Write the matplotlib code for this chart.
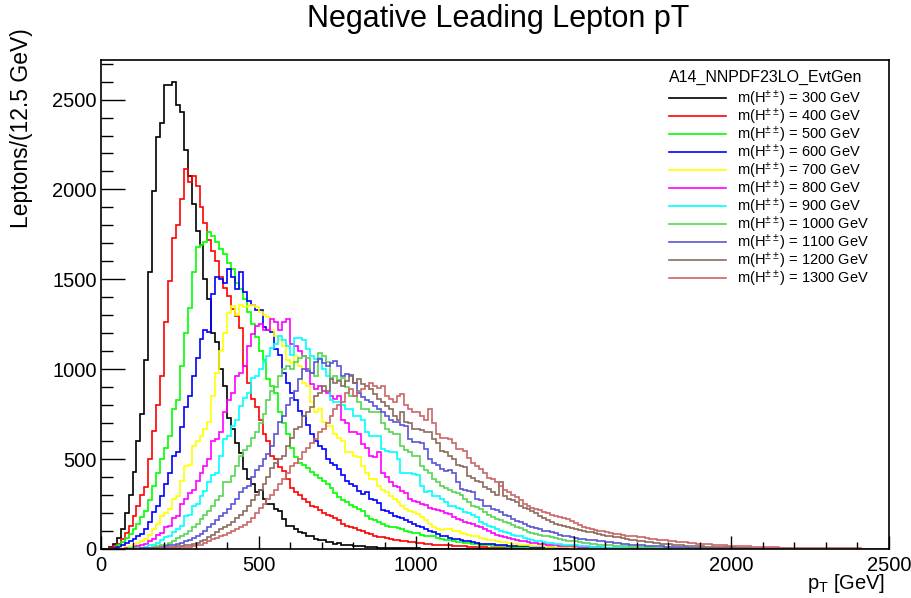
import matplotlib
matplotlib.use("Agg")
import matplotlib.pyplot as plt
import numpy as np
from matplotlib.lines import Line2D
from matplotlib.ticker import MultipleLocator

plt.rcParams['font.family'] = ['Liberation Sans', 'DejaVu Sans']
plt.rcParams['mathtext.fontset'] = 'custom'
plt.rcParams['mathtext.rm'] = 'Liberation Sans'
plt.rcParams['mathtext.it'] = 'Liberation Sans:italic'
plt.rcParams['mathtext.bf'] = 'Liberation Sans:bold'

# 200 bins of 12.5 GeV from 0 to 2500
n_bins = 200
bin_width = 12.5

masses = [300, 400, 500, 600, 700, 800, 900, 1000, 1100, 1200, 1300]
colors = ['#000000', '#ff0000', '#00ff00', '#0000ff', '#ffff00', '#ff00ff',
          '#00ffff', '#59d454', '#5954d8', '#8c6b5e', '#cc6666']

# bin contents (trailing bins are empty)
h300 = [0, 2, 10, 30, 60, 110, 200, 300, 430, 600,
        750, 1050, 1540, 1990, 2290, 2370, 2580, 2580, 2595, 2470,
        2430, 2220, 2075, 1920, 1770, 1690, 1500, 1390, 1200, 1150,
        1000, 905, 730, 665, 590, 535, 445, 390, 360, 315,
        330, 280, 250, 250, 220, 210, 165, 130, 130, 110,
        95, 90, 75, 70, 55, 50, 48, 40, 38, 30,
        32, 25, 22, 20, 18, 15, 14, 12, 10, 9,
        8, 8, 6, 6, 5, 5, 4, 4, 3, 3,
        3, 2, 2, 2, 2, 1, 1, 1, 1, 1]

h400 = [0, 2, 5, 15, 30, 55, 90, 130, 185, 240,
        300, 345, 500, 655, 800, 960, 1260, 1490, 1730, 1800,
        1945, 2115, 2040, 2075, 2020, 1905, 1815, 1720, 1660, 1600,
        1515, 1450, 1405, 1333, 1295, 1230, 1020, 925, 835, 790,
        720, 640, 600, 520, 500, 455, 435, 390, 340, 315,
        300, 280, 260, 240, 235, 215, 200, 190, 185, 170,
        160, 140, 130, 125, 115, 105, 100, 90, 85, 75,
        68, 65, 60, 55, 50, 48, 45, 42, 40, 38,
        36, 32, 30, 28, 25, 24, 22, 20, 20, 18,
        16, 15, 14, 13, 12, 11, 10, 9, 8, 8,
        7, 6, 6, 5, 5, 5, 4, 4, 3, 3,
        3, 2, 2, 2, 2, 1]

h500 = [0, 0, 2, 8, 20, 40, 60, 85, 110, 140,
        180, 210, 270, 350, 420, 500, 560, 630, 780, 830,
        1020, 1200, 1340, 1540, 1680, 1690, 1705, 1765, 1740, 1710,
        1667, 1640, 1590, 1560, 1480, 1445, 1390, 1320, 1250, 1180,
        1100, 1050, 945, 905, 870, 760, 700, 640, 560, 510,
        480, 470, 450, 430, 410, 395, 380, 360, 340, 310,
        290, 275, 260, 245, 235, 220, 210, 185, 165, 160,
        150, 140, 130, 125, 120, 115, 110, 100, 95, 90,
        90, 80, 75, 72, 70, 62, 58, 52, 50, 45,
        40, 38, 35, 32, 28, 26, 25, 22, 20, 18,
        16, 15, 14, 13, 12, 11, 10, 9, 8, 8,
        7, 6, 6, 5, 5, 4, 4, 3, 3, 3,
        2, 2, 2, 2, 1, 1, 1, 1, 1]

h600 = [0, 0, 1, 5, 12, 22, 35, 45, 55, 70,
        85, 110, 150, 205, 240, 295, 360, 425, 520, 540,
        680, 790, 850, 960, 1060, 1170, 1220, 1205, 1420, 1515,
        1500, 1480, 1560, 1515, 1445, 1540, 1430, 1380, 1360, 1330,
        1330, 1235, 1220, 1205, 1110, 1080, 980, 925, 870, 830,
        765, 740, 690, 640, 600, 575, 555, 500, 480, 470,
        445, 410, 380, 360, 350, 320, 305, 315, 280, 270,
        255, 215, 210, 200, 185, 180, 175, 160, 150, 140,
        130, 120, 110, 100, 95, 85, 75, 70, 60, 58,
        55, 50, 45, 42, 38, 35, 30, 30, 28, 26,
        24, 22, 20, 19, 18, 17, 16, 15, 14, 13,
        12, 11, 10, 10, 9, 8, 8, 7, 6, 6,
        5, 5, 5, 4, 4, 4, 3, 3, 3, 3,
        2, 2, 2, 2, 2, 1, 1, 1, 1, 1, 1]

h700 = [0, 0, 0, 1, 2, 5, 10, 15, 25, 35,
        45, 55, 80, 110, 140, 185, 200, 220, 280, 295,
        380, 460, 470, 575, 600, 630, 670, 705, 850, 980,
        1100, 1200, 1315, 1350, 1300, 1360, 1345, 1350, 1360, 1345,
        1320, 1300, 1290, 1220, 1185, 1165, 1130, 1050, 1035, 1075,
        1020, 925, 905, 815, 760, 780, 705, 685, 685, 640,
        620, 600, 540, 540, 520, 510, 460, 425, 390, 390,
        350, 330, 315, 295, 280, 260, 240, 220, 210, 205,
        195, 180, 160, 140, 120, 110, 105, 110, 110, 100,
        100, 90, 85, 80, 75, 70, 60, 55, 50, 48,
        45, 40, 38, 35, 30, 28, 25, 22, 20, 18,
        16, 15, 15, 13, 12, 11, 10, 9, 9, 8,
        8, 7, 6, 6, 5, 5, 4, 4, 4, 3,
        3, 3, 3, 2, 2, 2, 2, 2, 1, 1, 1, 1, 1, 1, 1]

h800 = [0, 0, 0, 0, 1, 2, 4, 6, 10, 15,
        20, 30, 45, 55, 80, 90, 120, 130, 175, 185,
        250, 280, 310, 330, 380, 425, 460, 500, 600, 610,
        650, 760, 830, 870, 960, 980, 1020, 1130, 1195, 1240,
        1250, 1220, 1220, 1280, 1260, 1220, 1260, 1280, 1140, 1130,
        1100, 1075, 1000, 920, 890, 905, 880, 870, 850, 835,
        850, 720, 700, 650, 650, 640, 585, 560, 520, 510,
        540, 425, 400, 370, 350, 345, 320, 310, 280, 265,
        260, 250, 245, 230, 220, 215, 210, 200, 195, 180,
        165, 160, 150, 145, 140, 130, 125, 110, 100, 90,
        80, 72, 65, 60, 55, 50, 45, 42, 40, 35,
        32, 30, 28, 25, 22, 20, 19, 17, 16, 15,
        14, 13, 12, 11, 10, 10, 9, 8, 8, 7,
        7, 6, 6, 5, 5, 5, 4, 4, 4, 3,
        3, 3, 3, 2, 2, 2, 2, 2, 2, 1, 1, 1, 1, 1, 1, 1]

h900 = [0, 0, 0, 0, 0, 1, 2, 3, 5, 6,
        8, 12, 20, 25, 35, 50, 65, 75, 95, 110,
        130, 185, 190, 240, 250, 295, 320, 370, 410, 425,
        520, 610, 630, 685, 720, 795, 840, 870, 950, 965,
        1000, 1040, 1075, 1120, 1140, 1185, 1165, 1130, 1080, 1175,
        1175, 1165, 1110, 1075, 1055, 1060, 1000, 960, 830, 820,
        815, 800, 780, 780, 740, 740, 720, 650, 630, 630,
        630, 555, 545, 540, 540, 500, 425, 425, 420, 415,
        410, 350, 315, 320, 295, 295, 280, 260, 240, 240,
        230, 220, 205, 200, 190, 180, 150, 140, 130, 120,
        110, 100, 95, 88, 80, 75, 70, 62, 55, 50,
        45, 42, 40, 35, 32, 30, 28, 25, 22, 21,
        20, 18, 16, 14, 12, 11, 10, 9, 8, 8,
        7, 7, 6, 6, 5, 5, 5, 4, 4, 4,
        3, 3, 3, 3, 2, 2, 2, 2, 2, 2, 1, 1, 1, 1, 1, 1, 1, 1]

h1000 = [0, 0, 0, 0, 0, 0, 1, 1, 2, 3,
         4, 6, 8, 12, 15, 20, 25, 35, 45, 60,
         75, 85, 100, 120, 140, 165, 190, 210, 240, 270,
         295, 370, 370, 405, 460, 520, 550, 575, 620, 650,
         700, 750, 830, 880, 900, 960, 1000, 1020, 1000, 1040,
         1060, 1075, 1060, 980, 960, 1090, 1075, 1040, 950, 960,
         940, 950, 900, 850, 850, 815, 780, 780, 760, 760,
         760, 700, 665, 650, 640, 640, 575, 550, 540, 520,
         520, 460, 440, 425, 390, 370, 350, 340, 330, 315,
         310, 300, 280, 260, 240, 235, 220, 205, 190, 180,
         165, 160, 150, 145, 135, 125, 115, 105, 95, 90,
         85, 80, 75, 70, 65, 60, 55, 50, 45, 45,
         42, 38, 35, 32, 30, 28, 25, 23, 22, 20,
         18, 16, 15, 14, 13, 12, 11, 10, 9, 9,
         8, 7, 7, 6, 6, 5, 5, 5, 4, 4,
         4, 3, 3, 3, 3, 2, 2, 2, 2, 2, 1, 1, 1, 1, 1, 1, 1, 1]

h1100 = [0, 0, 0, 0, 0, 0, 0, 1, 1, 2,
         3, 4, 5, 6, 8, 10, 15, 20, 25, 30,
         35, 42, 50, 60, 70, 85, 100, 120, 140, 160,
         185, 200, 220, 250, 280, 315, 340, 350, 400, 440,
         460, 500, 530, 575, 640, 705, 740, 800, 840, 880,
         945, 1000, 990, 980, 1040, 1055, 1035, 1020, 1035, 1045,
         1020, 960, 975, 970, 925, 870, 845, 830, 815, 795,
         780, 760, 740, 720, 705, 705, 690, 685, 610, 595,
         595, 590, 555, 500, 480, 470, 445, 435, 440, 425,
         370, 335, 330, 320, 315, 280, 270, 240, 240, 220,
         215, 205, 190, 185, 165, 155, 150, 140, 130, 125,
         115, 110, 100, 98, 95, 90, 80, 75, 70, 65,
         60, 58, 55, 52, 50, 48, 45, 42, 40, 38,
         35, 32, 30, 28, 25, 24, 22, 20, 19, 18,
         16, 15, 14, 13, 12, 11, 10, 10, 9, 8,
         8, 7, 7, 6, 6, 5, 5, 5, 4, 4,
         4, 4, 3, 3, 3, 3, 2, 2, 2, 2, 2, 2, 1, 1, 1, 1, 1, 1, 1, 1, 1]

h1200 = [0, 0, 0, 0, 0, 0, 0, 0, 0, 1,
         1, 2, 2, 3, 4, 6, 8, 10, 12, 15,
         18, 20, 22, 28, 35, 42, 50, 65, 80, 95,
         110, 120, 135, 150, 170, 190, 210, 240, 270, 300,
         330, 360, 400, 450, 480, 500, 520, 575, 620, 665,
         680, 740, 760, 790, 850, 870, 905, 880, 945, 925,
         935, 905, 935, 960, 925, 945, 920, 905, 890, 860,
         835, 815, 795, 780, 740, 720, 760, 705, 700, 665,
         665, 660, 650, 650, 610, 590, 545, 540, 520, 500,
         470, 460, 455, 405, 395, 380, 370, 345, 335, 315,
         300, 370, 295, 280, 270, 260, 240, 230, 220, 210,
         200, 185, 170, 160, 150, 140, 135, 130, 125, 118,
         112, 105, 100, 95, 92, 88, 85, 80, 75, 72,
         68, 64, 60, 55, 50, 48, 45, 42, 40, 38,
         36, 34, 30, 28, 26, 24, 22, 20, 19, 18,
         17, 16, 14, 13, 12, 11, 10, 10, 9, 9,
         9, 8, 7, 7, 6, 6, 5, 5, 5, 4,
         4, 4, 3, 3, 3, 2, 2, 2, 2, 2,
         2, 1, 1, 1, 1, 1, 1, 1, 1, 1, 1]

h1300 = [0, 0, 0, 0, 0, 0, 0, 0, 0, 0,
         0, 1, 1, 2, 2, 3, 4, 5, 6, 8,
         10, 12, 10, 15, 20, 25, 35, 45, 55, 60,
         70, 80, 90, 100, 110, 120, 135, 150, 175, 200,
         230, 250, 280, 300, 330, 360, 390, 420, 460, 480,
         500, 540, 560, 590, 610, 650, 670, 700, 740, 780,
         800, 820, 870, 890, 850, 880, 890, 905, 925, 905,
         895, 905, 850, 835, 815, 850, 860, 800, 780, 760,
         760, 740, 720, 780, 700, 640, 620, 620, 610, 590,
         555, 555, 545, 505, 480, 460, 445, 420, 395, 390,
         370, 350, 330, 315, 300, 290, 275, 250, 240, 230,
         222, 215, 205, 198, 190, 185, 180, 172, 165, 155,
         145, 135, 125, 118, 110, 105, 100, 98, 95, 90,
         85, 82, 78, 75, 72, 70, 68, 64, 60, 58,
         55, 52, 50, 48, 45, 42, 40, 38, 38, 35,
         32, 30, 28, 27, 26, 24, 22, 21, 20, 19,
         18, 17, 16, 15, 14, 13, 12, 11, 10, 10,
         9, 9, 8, 8, 8, 7, 7, 6, 6, 6,
         5, 5, 5, 5, 4, 4, 4, 4, 3, 3,
         3, 3, 3, 2, 2, 2, 2, 2, 2, 2]

hists = [h300, h400, h500, h600, h700, h800, h900, h1000, h1100, h1200, h1300]

edges = np.arange(n_bins + 1) * bin_width

fig = plt.figure(figsize=(9.12, 5.98), dpi=100)
ax = fig.add_axes([101 / 912, 1 - 549 / 598, 788 / 912, 489 / 598])

handles = []
for m, h, c in zip(masses, hists, colors):
    counts = np.zeros(n_bins)
    counts[:len(h)] = h
    ax.stairs(counts, edges, color=c, linewidth=1.2, baseline=None)
    handles.append(Line2D([], [], color=c, linewidth=1.2,
                          label=r'm(H$^{\pm\pm}$) = %d GeV' % m))

ax.set_xlim(0, 2500)
ax.set_ylim(0, 2720)
ax.xaxis.set_major_locator(MultipleLocator(500))
ax.xaxis.set_minor_locator(MultipleLocator(100))
ax.yaxis.set_major_locator(MultipleLocator(500))
ax.yaxis.set_minor_locator(MultipleLocator(100))
ax.tick_params(axis='x', which='major', direction='in', length=9.5, width=1, labelsize=14.5, pad=5)
ax.tick_params(axis='x', which='minor', direction='in', length=4.7, width=1)
ax.tick_params(axis='y', which='major', direction='in', length=17, width=1, labelsize=14.5, pad=3)
ax.tick_params(axis='y', which='minor', direction='in', length=8.5, width=1)
for s in ax.spines.values():
    s.set_linewidth(1.2)

fig.text(498 / 912, 1 - 19 / 598, 'Negative Leading Lepton pT', ha='center', va='center', fontsize=22)
fig.text(22 / 912, 1 - 128 / 598, 'Leptons/(12.5 GeV)', rotation=90, ha='center', va='center', fontsize=16.5)
fig.text(885 / 912, 1 - 589 / 598, r'p$_\mathregular{T}$ [GeV]', ha='right', va='baseline', fontsize=14.5)

leg = ax.legend(handles=handles, title='A14_NNPDF23LO_EvtGen', loc='upper left',
                bbox_to_anchor=(669 / 912, 1 - 70 / 598), bbox_transform=fig.transFigure,
                frameon=False, fontsize=10.5, title_fontsize=11.5, alignment='left',
                handlelength=3.9, handletextpad=0.75, labelspacing=-0.16,
                borderpad=0, borderaxespad=0)
# a little more room between the header and the first entry
leg._legend_box.sep = 2.5

fig.savefig('out.png', dpi=100)
